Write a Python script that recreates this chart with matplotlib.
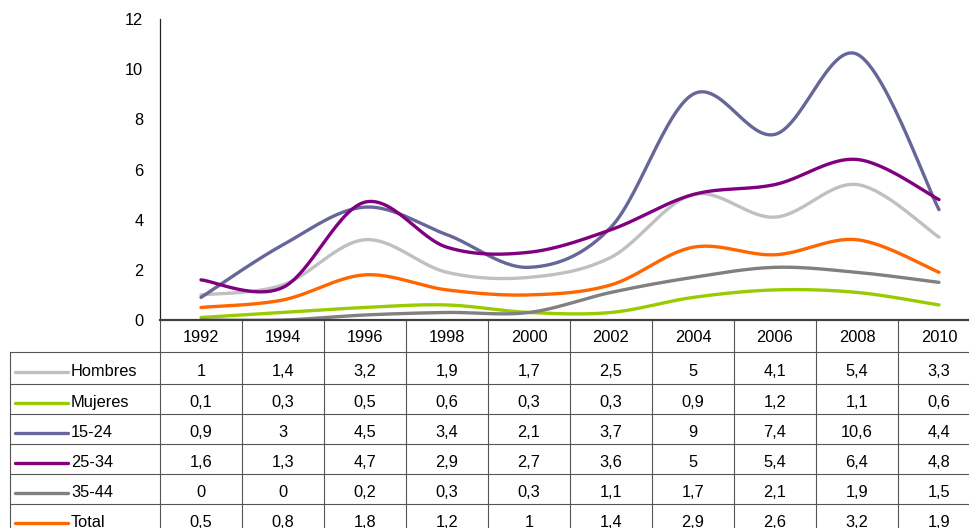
import numpy as np
import matplotlib
matplotlib.use("Agg")
import matplotlib.pyplot as plt

plt.rcParams['font.family'] = ['Liberation Sans', 'DejaVu Sans']

years = ['1992', '1994', '1996', '1998', '2000', '2002', '2004', '2006', '2008', '2010']
series_names = ['Hombres', 'Mujeres', '15-24', '25-34', '35-44', 'Total']
hombres = [1, 1.4, 3.2, 1.9, 1.7, 2.5, 5, 4.1, 5.4, 3.3]
mujeres = [0.1, 0.3, 0.5, 0.6, 0.3, 0.3, 0.9, 1.2, 1.1, 0.6]
edad_15_24 = [0.9, 3, 4.5, 3.4, 2.1, 3.7, 9, 7.4, 10.6, 4.4]
edad_25_34 = [1.6, 1.3, 4.7, 2.9, 2.7, 3.6, 5, 5.4, 6.4, 4.8]
edad_35_44 = [0, 0, 0.2, 0.3, 0.3, 1.1, 1.7, 2.1, 1.9, 1.5]
total = [0.5, 0.8, 1.8, 1.2, 1, 1.4, 2.9, 2.6, 3.2, 1.9]

series = [hombres, mujeres, edad_15_24, edad_25_34, edad_35_44, total]
colors = ['#c0c0c0', '#99cc00', '#666699', '#800080', '#808080', '#ff6600']


def smooth(xs, ys, n=30):
    # bezier smoothing like excel (catmull-rom control points)
    xs = np.asarray(xs, float)
    ys = np.asarray(ys, float)
    pts = np.column_stack([xs, ys])
    p = np.vstack([pts[0], pts, pts[-1]])
    out = []
    t = np.linspace(0, 1, n)[:, None]
    for i in range(1, len(p) - 2):
        p0, p1, p2, p3 = p[i - 1], p[i], p[i + 1], p[i + 2]
        c1 = p1 + (p2 - p0) / 6
        c2 = p2 - (p3 - p1) / 6
        seg = ((1 - t) ** 3) * p1 + 3 * ((1 - t) ** 2) * t * c1 + 3 * (1 - t) * t ** 2 * c2 + t ** 3 * p2
        out.append(seg if i == 1 else seg[1:])
    out = np.vstack(out)
    return out[:, 0], out[:, 1]


W, H = 970, 528
fig = plt.figure(figsize=(W / 100, H / 100), dpi=100)

x0, x1 = 160, 980
y_top, y_zero = 19, 320
ax = fig.add_axes([x0 / W, (H - y_zero) / H, (x1 - x0) / W, (y_zero - y_top) / H])

x = np.arange(len(years))
for vals, c in zip(series, colors):
    sx, sy = smooth(x, vals)
    ax.plot(sx, sy, color=c, lw=2.4, solid_capstyle='round', solid_joinstyle='round')

ax.set_xlim(-0.5, len(years) - 0.5)
ax.set_ylim(0, 12)
ax.set_yticks(range(0, 13, 2))
ax.set_xticks([])
ax.tick_params(axis='y', length=0, pad=12, labelsize=11.8)
ax.spines['top'].set_visible(False)
ax.spines['right'].set_visible(False)
ax.spines['left'].set_color('#222222')
ax.spines['left'].set_linewidth(0.9)
ax.spines['bottom'].set_color('#404040')
ax.spines['bottom'].set_linewidth(1.6)
ax.patch.set_alpha(0)

# tabla de datos debajo del grafico
tab = fig.add_axes([0, 0, 1, 1], zorder=-1)
tab.set_xlim(0, W)
tab.set_ylim(H, 0)
tab.axis('off')

col_w = (x1 - x0) / len(years)
row_lines = [352, 384, 414, 444, 474, 504, 534]
line_c = '#555555'

for i in range(len(years) + 1):
    xx = x0 + i * col_w
    tab.plot([xx, xx], [y_zero, 540], color=line_c, lw=0.8)
for yy in row_lines:
    tab.plot([10, x1], [yy, yy], color=line_c, lw=0.8)
tab.plot([10, 10], [352, 540], color=line_c, lw=0.8)

for i, yr in enumerate(years):
    tab.text(x0 + (i + 0.5) * col_w, 337, yr, ha='center', va='center', fontsize=11.8)

for r, (name, vals, c) in enumerate(zip(series_names, series, colors)):
    yc = (row_lines[r] + row_lines[r + 1]) / 2 + 3.5
    tab.plot([15, 68], [yc, yc], color=c, lw=2.4, solid_capstyle='round')
    tab.text(71, yc, name, ha='left', va='center', fontsize=11.8)
    for i, v in enumerate(vals):
        s = f"{v:g}".replace('.', ',')
        tab.text(x0 + (i + 0.5) * col_w, yc, s, ha='center', va='center', fontsize=11.8)

fig.savefig('out.png', dpi=100)
